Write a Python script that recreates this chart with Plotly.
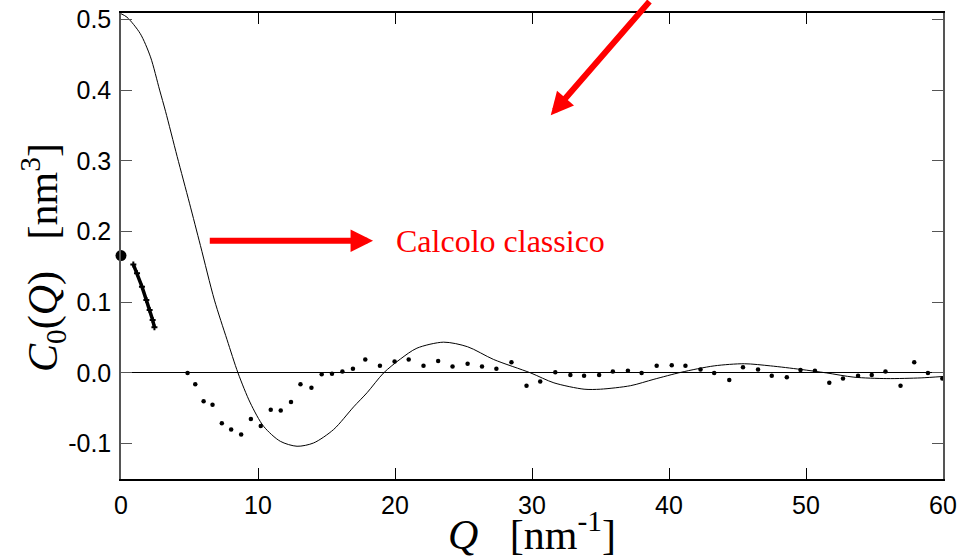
import plotly.graph_objects as go

# ---- data ----
curve_q = [0, 0.44, 1.4, 2.15, 2.82, 3.25, 4.1, 5.0, 5.8, 6.82, 7.74, 8.54, 9.44, 10.41,
           11.63, 12.85, 14.06, 15.52, 16.98, 17.96, 19.17, 20.39, 21.6, 23.55, 25.3, 27.2,
           29.9, 31.6, 33.8, 35.0, 37.2, 38.9, 40.9, 43.3, 45.5, 47.4, 49.6, 51.5, 53.5,
           55.9, 58.4, 60]
curve_c = [0.508, 0.503, 0.48, 0.447, 0.40, 0.370, 0.306, 0.240, 0.180, 0.103, 0.047, 0.0,
           -0.0425, -0.0755, -0.0967, -0.1037, -0.099, -0.080, -0.048, -0.028, 0.0, 0.0196,
           0.035, 0.0435, 0.037, 0.019, 0.0, -0.014, -0.023, -0.023, -0.018, -0.009, 0.001,
           0.010, 0.013, 0.010, 0.005, 0.0, -0.006, -0.008, -0.007, -0.005]

dots_q = [4.86, 5.42, 6.03, 6.68, 7.36, 8.04, 8.77, 9.48, 10.2, 10.93, 11.66, 12.41, 13.1,
          13.9, 14.65, 15.4, 16.16, 16.93, 17.83, 18.9, 19.97, 21.0, 22.08, 23.15, 24.2,
          25.3, 26.35, 27.4, 28.5, 29.6, 30.6, 31.7, 32.8, 33.8, 34.9, 35.9, 37.0, 38.0,
          39.1, 40.2, 41.2, 42.3, 43.3, 44.4, 45.4, 46.5, 47.5, 48.6, 49.6, 50.65, 51.7,
          52.7, 53.8, 54.8, 55.8, 56.9, 57.9, 58.9, 59.95]
dots_c = [0.0, -0.016, -0.040, -0.045, -0.071, -0.080, -0.087, -0.065, -0.075, -0.052,
          -0.053, -0.041, -0.016, -0.021, -0.002, -0.001, 0.002, 0.006, 0.019, 0.010,
          0.016, 0.019, 0.010, 0.017, 0.009, 0.013, 0.009, 0.006, 0.015, -0.018, -0.012,
          0.001, -0.003, -0.004, -0.003, 0.002, 0.003, 0.0, 0.010, 0.011, 0.010, 0.005,
          0.0, -0.010, 0.008, 0.005, -0.004, -0.006, 0.004, 0.003, -0.014, -0.008, -0.004,
          -0.003, 0.002, -0.018, 0.015, 0.0, -0.008]

cross_q = [0.9, 1.17, 1.53, 1.85, 2.09, 2.31, 2.44]
cross_c = [0.1535, 0.141, 0.122, 0.103, 0.089, 0.075, 0.0645]

big_q = [0.0]
big_c = [0.166]

x_ticks = [0, 10, 20, 30, 40, 50, 60]
x_tick_text = ["0", "10", "20", "30", "40", "50", "60"]
y_ticks = [-0.1, 0.0, 0.1, 0.2, 0.3, 0.4, 0.5]
y_tick_text = ["-0.1", "0.0", "0.1", "0.2", "0.3", "0.4", "0.5"]

label_text = "Calcolo classico"
x_title = "<i>Q</i>\u00a0\u00a0\u00a0[nm<sup>-1</sup>]"
y_title = "<i>C</i><sub>0</sub>(<i>Q</i>)\u00a0\u00a0\u00a0[nm<sup>3</sup>]"

SERIF = "Liberation Serif, Times New Roman, serif"
SANS = "Liberation Sans, Arial, sans-serif"

fig = go.Figure()
fig.add_trace(go.Scatter(x=curve_q, y=curve_c, mode="lines",
                         line=dict(color="black", width=1, shape="spline", smoothing=0.8),
                         showlegend=False))
fig.add_trace(go.Scatter(x=dots_q, y=dots_c, mode="markers",
                         marker=dict(color="black", size=4.5), showlegend=False,
                         cliponaxis=False))
fig.add_trace(go.Scatter(x=cross_q, y=cross_c, mode="lines+markers",
                         line=dict(color="black", width=3.5),
                         marker=dict(color="black", size=5, symbol="cross"),
                         showlegend=False))
fig.add_trace(go.Scatter(x=big_q, y=big_c, mode="markers",
                         marker=dict(color="black", size=11), showlegend=False,
                         cliponaxis=False))

fig.update_layout(
    width=960, height=557,
    margin=dict(l=121, r=17, t=13, b=78),
    plot_bgcolor="white", paper_bgcolor="white",
    xaxis=dict(range=[0, 60], tickvals=x_ticks, ticktext=x_tick_text,
               ticks="inside", ticklen=11, tickcolor="black", tickwidth=1,
               showline=True, linecolor="black", linewidth=1.5, mirror="ticks",
               showgrid=False, zeroline=False, automargin=False,
               tickfont=dict(family=SANS, size=25, color="black"),
               ticklabelstandoff=3),
    yaxis=dict(range=[-0.150, 0.509], tickvals=y_ticks, ticktext=y_tick_text,
               ticks="inside", ticklen=11, tickcolor="#555", tickwidth=1,
               showline=True, linecolor="#555", linewidth=1.5, mirror="ticks",
               showgrid=False, zeroline=True, zerolinecolor="black", zerolinewidth=1,
               automargin=False,
               tickfont=dict(family=SANS, size=25, color="black"),
               ticklabelstandoff=3),
)

# axis titles
fig.add_annotation(xref="paper", yref="paper", x=0.5, y=-0.113, text=x_title,
                   showarrow=False, xanchor="center", yanchor="middle",
                   font=dict(family=SERIF, size=42, color="black"))
fig.add_annotation(xref="paper", yref="paper", x=-0.0957, y=0.475, text=y_title,
                   showarrow=False, xanchor="center", yanchor="middle", textangle=-90,
                   font=dict(family=SERIF, size=42, color="black"))

# red text and arrows
fig.add_annotation(x=27.68, y=0.186, text=label_text, showarrow=False,
                   xanchor="center", yanchor="middle",
                   font=dict(family=SERIF, size=32, color="#ff0000"))
fig.add_annotation(x=18.4, y=0.187, ax=6.37, ay=0.187, axref="x", ayref="y",
                   text="", showarrow=True, arrowhead=2, arrowsize=0.75,
                   arrowwidth=6, arrowcolor="#ff0000", standoff=0)
fig.add_annotation(x=31.37, y=0.3645, ax=100, ay=-137,
                   text="", showarrow=True, arrowhead=2, arrowsize=0.75,
                   arrowwidth=6, arrowcolor="#ff0000", standoff=0)

fig.write_html("out.html", config={"displayModeBar": False},
               post_script="document.body.style.margin='0';document.body.style.overflow='hidden';")
